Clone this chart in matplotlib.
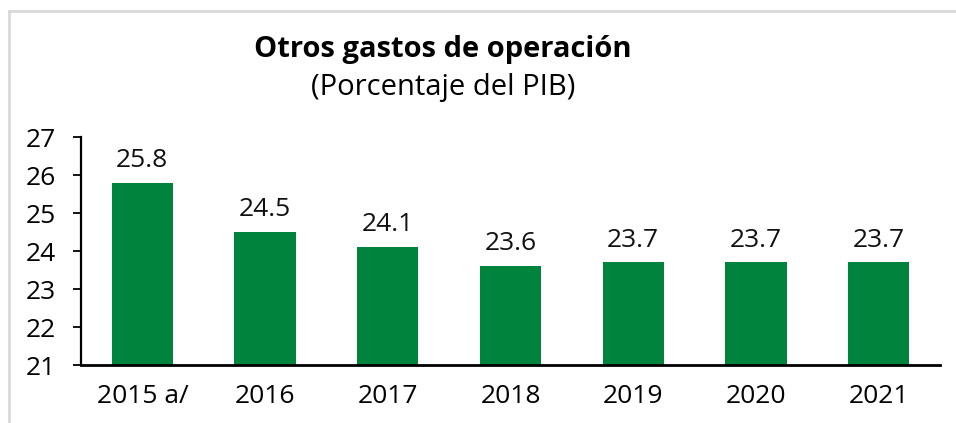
import matplotlib.pyplot as plt
from matplotlib.lines import Line2D

years = ["2015 a/", "2016", "2017", "2018", "2019", "2020", "2021"]
gasto = [25.8, 24.5, 24.1, 23.6, 23.7, 23.7, 23.7]
labels = ["25.8", "24.5", "24.1", "23.6", "23.7", "23.7", "23.7"]

plt.rcParams['font.family'] = ['Open Sans', 'DejaVu Sans']

fig = plt.figure(figsize=(9.56, 4.23), dpi=100)
ax = fig.add_axes([81 / 956, 1 - 365 / 423, (940 - 81) / 956, (365 - 137) / 423])

x = range(len(years))
ax.bar(x, gasto, width=0.5, color='#00843D', bottom=0)
for i, v in enumerate(gasto):
    ax.annotate(labels[i], (i, v), xytext=(0, 7), textcoords='offset points',
                ha='center', va='bottom', fontsize=19, color='#111111')

ax.set_ylim(21, 27)
ax.set_xlim(-0.5, len(years) - 0.5)
ax.set_yticks(range(21, 28))
ax.set_xticks(list(x))
ax.set_xticklabels(years)
ax.tick_params(axis='y', direction='out', length=6, width=1.3, labelsize=19, pad=12)
ax.tick_params(axis='x', length=0, labelsize=19, pad=14)
for s in ['top', 'right']:
    ax.spines[s].set_visible(False)
ax.spines['left'].set_linewidth(1.6)
ax.spines['bottom'].set_linewidth(2)

fig.text(443 / 956, 1 - 50 / 423, "Otros gastos de operación", ha='center', va='center',
         fontsize=21, fontweight='bold')
fig.text(443 / 956, 1 - 88 / 423, "(Porcentaje del PIB)", ha='center', va='center',
         fontsize=21)

# frame of the original panel
fig.add_artist(Line2D([9 / 956, 1], [1 - 11 / 423] * 2, color='#D9D9D9', lw=2))
fig.add_artist(Line2D([9 / 956] * 2, [0, 1 - 11 / 423], color='#D9D9D9', lw=2))

fig.savefig('out.png', dpi=100)
